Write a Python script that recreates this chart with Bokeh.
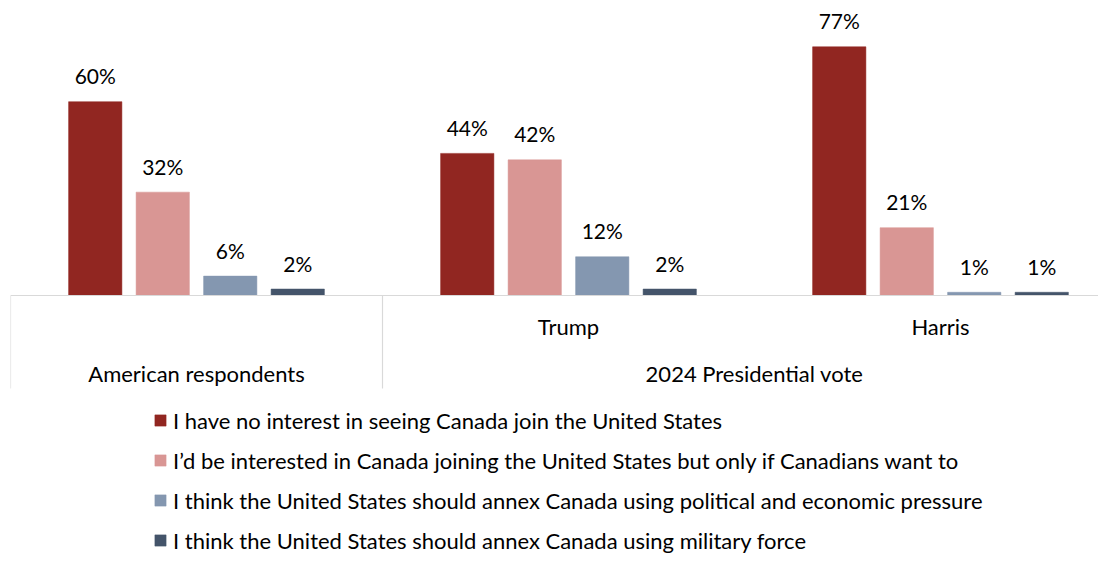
import numpy as np
from bokeh.plotting import figure
from bokeh.models import Range1d, Legend, LegendItem, ColumnDataSource
from bokeh.core.properties import value
from bokeh.embed import file_html
from bokeh.resources import INLINE

# ---------------- data ----------------
groups = ["American respondents", "Trump", "Harris"]
subgroup_labels = ["", "Trump", "Harris"]
top_groups = ["American respondents", "2024 Presidential vote"]
top_group_spans = [(0, 1), (1, 3)]
series_names = [
    "I have no interest in seeing Canada join the United States",
    "I\u2019d be interested in Canada joining the United States but only if Canadians want to",
    "I think the United States should annex Canada using political and economic pressure",
    "I think the United States should annex Canada using military force",
]
no_interest = [60, 44, 77]
interested_if_want = [32, 42, 21]
political_pressure = [6, 12, 1]
military_force = [2, 2, 1]
series_values = [no_interest, interested_if_want, political_pressure, military_force]
colors = ["#912621", "#D99694", "#8497B0", "#44546A"]

# ---------------- layout constants ----------------
FONT = "Lato"
W, H = 1098, 553
GROUP_PX = 372.0
PX_PER_UNIT_Y = 3.23
FRAME_LEFT = 10
BASE_Y = 295
frame_w = W - FRAME_LEFT
x_end = frame_w / GROUP_PX
y_end = BASE_Y / PX_PER_UNIT_Y
y_start = -(H - BASE_Y) / PX_PER_UNIT_Y

def py(screen_y):
    return (BASE_Y - screen_y) / PX_PER_UNIT_Y

p = figure(width=W, height=H, output_backend="svg", toolbar_location=None,
           x_range=Range1d(0, x_end), y_range=Range1d(y_start, y_end),
           min_border_left=FRAME_LEFT, min_border_right=0,
           min_border_top=0, min_border_bottom=0)
p.axis.visible = False
p.grid.visible = False
p.outline_line_color = None
p.background_fill_color = "white"
p.border_fill_color = "white"

n_groups = len(groups)
group_centers = np.arange(n_groups) + 0.5
step = 67.5 / GROUP_PX
bar_w = 53.3 / GROUP_PX

renderers = []
for j, (name, vals, col) in enumerate(zip(series_names, series_values, colors)):
    xs = group_centers + (j - 1.5) * step
    src = ColumnDataSource(dict(x=xs, top=vals, label=[f"{v}%" for v in vals]))
    r = p.vbar(x="x", top="top", bottom=0, width=bar_w, source=src,
               fill_color=col, line_color=col, line_width=0.5)
    renderers.append((name, r))
    p.text(x="x", y="top", text="label", source=src, text_align="center",
           text_baseline="middle", y_offset=-26, text_font=value(FONT),
           text_font_size="21px", text_color="#000000")

# category axis lines
p.segment(x0=[0], y0=[0], x1=[x_end + 1], y1=[0], line_color="#D9D9D9", line_width=1.2)
sep_x = [s for s, e in top_group_spans]
p.segment(x0=sep_x, y0=[0] * len(sep_x), x1=sep_x, y1=[py(388)] * len(sep_x),
          line_color="#D9D9D9", line_width=1.2)

# sub-category labels
p.text(x=list(group_centers), y=[py(326)] * n_groups, text=subgroup_labels,
       text_align="center", text_baseline="middle", text_font=value(FONT),
       text_font_size="22px", text_color="#000000")
# top-level group labels
tg_x = [(s + e) / 2 for s, e in top_group_spans]
p.text(x=tg_x, y=[py(373)] * len(tg_x), text=top_groups,
       text_align="center", text_baseline="middle", text_font=value(FONT),
       text_font_size="22px", text_color="#000000")

legend = Legend(items=[LegendItem(label=n, renderers=[r]) for n, r in renderers],
                location=(143, -2), orientation="vertical")
legend.glyph_width = 14
legend.glyph_height = 14
legend.label_standoff = 6
legend.label_height = 30
legend.spacing = 10
legend.padding = 0
legend.margin = 0
legend.border_line_color = None
legend.background_fill_alpha = 0
legend.label_text_font = FONT
legend.label_text_font_size = "22px"
legend.label_text_color = "#000000"
p.add_layout(legend, "center")

open("out.html", "w").write(file_html(p, INLINE))
